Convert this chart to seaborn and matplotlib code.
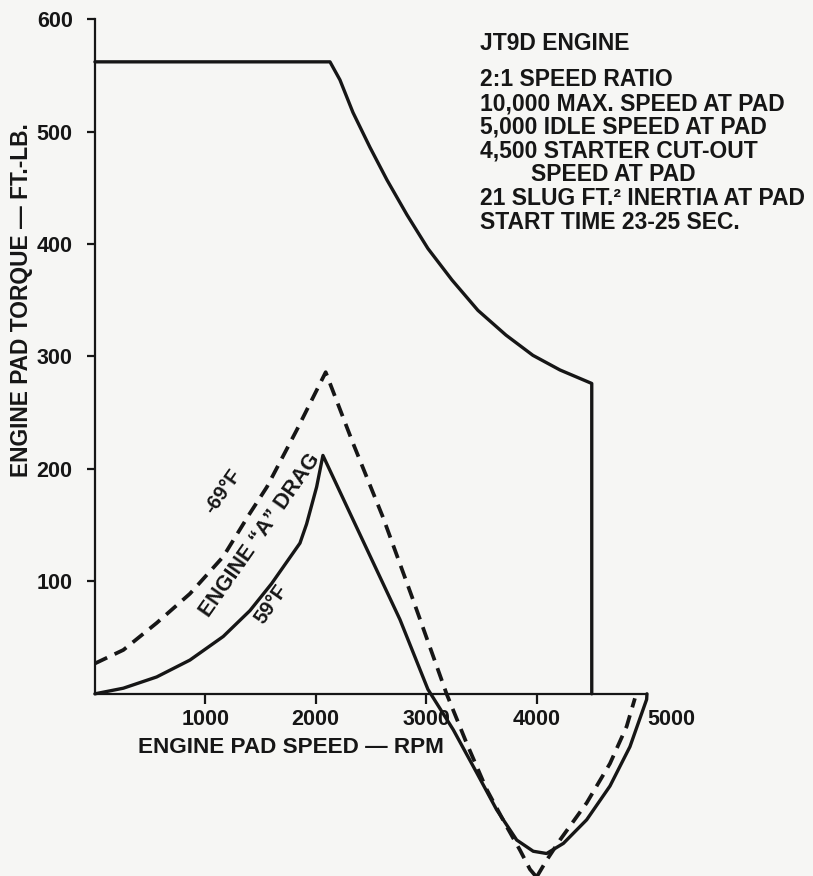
import seaborn as sns
import matplotlib.pyplot as plt

# --- Datos (RPM en el pad, torque en ft-lb) ---
starter_rpm = [0, 2129, 2219, 2337, 2491, 2645, 2826, 3016, 3234, 3469,
               3723, 3967, 4212, 4500, 4500]
starter_torque = [562, 562, 546, 517, 486, 457, 426, 396, 368, 341,
                  319, 301, 288, 276, 0]

drag_59_rpm = [0, 257, 559, 860, 1162, 1404, 1600, 1857, 1917, 2008, 2065,
               2337, 2763, 3016, 3246, 3457, 3638, 3820, 3970, 4091, 4243,
               4454, 4665, 4846, 4997, 5000]
drag_59_torque = [0, 5, 15, 30, 51, 74, 98, 134, 151, 184, 212,
                  155, 66, 4, -32, -70, -103, -130, -140, -142, -133,
                  -112, -82, -47, -5, 0]

drag_m69_rpm = [0, 257, 559, 860, 1162, 1400, 1558, 1830, 2090,
                2337, 2609, 2880, 3185, 3367, 3548, 3729, 3850, 3940, 4000,
                4091, 4212, 4454, 4665, 4816, 4891]
drag_m69_torque = [27, 39, 63, 89, 122, 160, 184, 235, 286,
                   223, 157, 84, 0, -44, -85, -118, -139, -156, -163,
                   -148, -130, -97, -62, -29, -4]

x_ticks = [1000, 2000, 3000, 4000, 5000]
y_ticks = [100, 200, 300, 400, 500, 600]

title_line = "JT9D ENGINE"
notes = [
    "2:1 SPEED RATIO",
    "10,000 MAX. SPEED AT PAD",
    "5,000 IDLE SPEED AT PAD",
    "4,500 STARTER CUT-OUT",
    "        SPEED AT PAD",
    "21 SLUG FT.\u00b2 INERTIA AT PAD",
    "START TIME 23-25 SEC.",
]

INK = "#161616"
PAPER = "#f6f6f4"

sns.set_style("white")
plt.rcParams["font.family"] = ["Liberation Sans", "DejaVu Sans"]
plt.rcParams["font.weight"] = "bold"

fig = plt.figure(figsize=(8.13, 8.76), dpi=100, facecolor=PAPER)
ax = fig.add_axes([0, 0, 1, 1])
ax.set_facecolor(PAPER)

# curvas
sns.lineplot(x=starter_rpm, y=starter_torque, sort=False, estimator=None,
             color=INK, linewidth=2.4, ax=ax)
sns.lineplot(x=drag_59_rpm, y=drag_59_torque, sort=False, estimator=None,
             color=INK, linewidth=2.4, ax=ax)
sns.lineplot(x=drag_m69_rpm, y=drag_m69_torque, sort=False, estimator=None,
             color=INK, linewidth=2.7, linestyle=(0, (3.6, 2.2)), ax=ax)

ax.set_xlim(-860, 6504)
ax.set_ylim(-162, 617)

# ejes cruzando en el origen
for side in ["top", "right"]:
    ax.spines[side].set_visible(False)
ax.spines["left"].set_position(("data", 0))
ax.spines["bottom"].set_position(("data", 0))
ax.spines["left"].set_bounds(0, 600)
ax.spines["bottom"].set_bounds(0, 5000)
for side in ["left", "bottom"]:
    ax.spines[side].set_color(INK)
    ax.spines[side].set_linewidth(1.6)

ax.set_xticks(x_ticks)
ax.set_yticks(y_ticks)
ax.set_xticklabels([str(v) for v in x_ticks])
ax.set_yticklabels([str(v) for v in y_ticks])
ax.tick_params(axis="y", direction="out", length=6, width=1.6, pad=10,
               labelsize=15.5, colors=INK, left=True)
ax.tick_params(axis="x", direction="out", length=7, width=1.6, pad=4,
               labelsize=15.5, colors=INK, bottom=True)
ax.get_xticklabels()[-1].set_horizontalalignment("left")
ax.xaxis.get_major_ticks()[-1].tick1line.set_visible(False)
ax.set_xlabel("")
ax.set_ylabel("")

# etiquetas de ejes
ax.text(-661, 350, "ENGINE PAD TORQUE \u2014 FT.-LB.", rotation=90,
        ha="center", va="center", fontsize=16.4, fontweight="bold", color=INK)
ax.text(1775, -48, "ENGINE PAD SPEED \u2014 RPM", ha="center", va="center",
        fontsize=16.2, fontweight="bold", color=INK)

# etiquetas de las curvas de arrastre
ax.text(1160, 180, "-69\u00b0F", rotation=55, ha="center", va="center",
        fontsize=14.5, fontweight="bold", color=INK)
ax.text(1500, 141, "ENGINE \u201cA\u201d DRAG", rotation=55, ha="center",
        va="center", fontsize=15.5, fontweight="bold", color=INK)
ax.text(1600, 80, "59\u00b0F", rotation=55, ha="center", va="center",
        fontsize=14.5, fontweight="bold", color=INK)

# bloque de notas
fig.text(480 / 813, 1 - 44 / 876, title_line, ha="left", va="center",
         fontsize=16.5, fontweight="bold", color=INK)
for i, line in enumerate(notes):
    y_px = 80 + i * 23.7
    fig.text(480 / 813, 1 - y_px / 876, line, ha="left", va="center",
             fontsize=16.5, fontweight="bold", color=INK)

plt.savefig("out.png", dpi=100, facecolor=PAPER)
